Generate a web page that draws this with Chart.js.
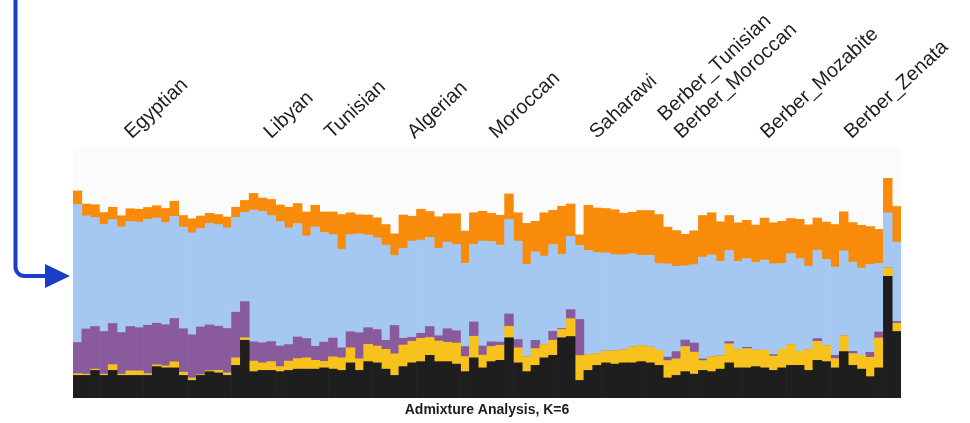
<!DOCTYPE html>
<html>
<head>
<meta charset="utf-8">
<script src="https://cdn.jsdelivr.net/npm/chart.js@4.4.1/dist/chart.umd.min.js"></script>
<style>
  html, body { margin: 0; padding: 0; background: #ffffff; }
  #wrap { width: 970px; height: 423px; }
</style>
</head>
<body>
<div id="wrap"><canvas id="admix" width="970" height="423"></canvas></div>
<script>
// Ancestry proportions (%) per individual, K=6. The sixth component is the
// pale remainder above the orange layer, painted as the plot background.
const black = [9,9,11,9,11,9,9,9,9,12.5, 12,12,9,7,9,10.5,10,9,13,23, 10.5,11,11,10.5,11,11.5,11.5,11.5,12,11.5, 11,14,11,14.5,14,11.5,9,12.5,14,14.5, 17,14.5,14.5,13.5,10.5,16,12,14.5,15,24, 14,10.5,13,16,17,24,24.5,7,11,13, 14,13.5,14,14,14.5,14,13,8,9,10.5, 9.5,11,10.5,11.5,14,12,12,12.5,12,11, 12,13,13,11,15,14.5,12,18.5,13,11.5, 8.5,12,48.5,26.5];
const yellow = [0.7,0.5,0.5,0.5,2.3,0.5,1.8,1.8,0.7,0.7, 0.8,2.4,1.3,1,0.3,0.4,1,1,3,1, 4.2,3,3.5,2,3.7,4.2,4.5,3.5,2.6,4.9, 5,6,4.6,6.9,6.7,7.9,8.6,8.6,8.6,9.3, 7.1,8.2,7.7,8.4,6,8.6,5.1,6,6,4.6, 6,6,6.7,5.3,6,3.3,7.1,9.9,6.3,4.7, 4.7,5.3,5.2,6.3,6.4,6.3,6,6.9,6.6,10, 8.8,3.9,6,5.3,7.6,7.3,7.7,6.6,7,5.7, 7.4,8.3,5.6,8.3,7.6,6.4,3.7,6.3,4.7,5.5, 7.7,11.9,3.4,3.3];
const purple = [12.4,18,17,17,16.4,16.6,17.7,17.2,19.3,16.6, 16.4,17.3,17.3,17.2,19,18.2,17.6,17.7,18.2,14.4, 7.7,8,8,8.2,6.6,8.6,7.7,5.6,7.7,7.5, 4,6.4,10.4,6.6,6.6,3.6,11.3,2.7,1.6,2, 4.4,2.1,5.4,4.9,4,5.7,3.6,1.9,1.3,4.9, 3.3,0,3.3,0,3.6,0.4,3.6,14.4,0,0, 0,0,0,0,0,0,0,1.4,2.9,2.6, 3.6,0.7,0,0,0.9,0,0.5,0,0,0.6, 0,0,0,0,1.1,0,1.3,0,0.9,0, 2,2.4,0,0.7];
const blue = [55.1,45.1,43.4,42.7,41.4,42.1,41.8,42.1,42.2,41.9, 40.7,40.7,40.5,40.6,39.2,40.5,40.5,40.1,37.8,35.6, 52.5,52.4,50.2,49.6,46.5,45.2,40.9,47.6,43.6,41.2, 39.2,38.7,39.4,36.9,36.5,37.9,27.9,35.8,38.3,37.1, 35.5,34.8,34.5,34.3,33.2,30.9,41.8,39.9,38.6,37.6, 39.2,36.8,35.2,35.2,34.5,29.5,29.2,29.5,41.5,40.2, 39.1,38.3,37.8,37.1,35.9,36.5,34.6,37.2,34,29.6, 31.2,40.5,40.5,37.7,36.3,35.2,35.3,34.9,35.9,36.2, 34.2,36.2,36.9,33.2,35.2,34.3,35.2,33.8,35.6,34.8, 35.1,27.3,21.9,31.6];
const orange = [5.3,4.7,5.1,4.7,4.9,4.4,5.1,5.1,4.7,4.9, 5.6,6,4.6,5.6,5,4,4,4.3,4,4.7, 6.6,5.3,6.4,6.6,8.2,8,9.5,8.6,8.2,9, 13.9,8.7,7.6,8,8,8.2,8.6,13.3,9.9,12.3, 10.3,12.6,11.3,12.3,12.8,12.6,11.9,11.3,11.9,10.2, 11.3,16.3,12.2,17.3,13.7,19.2,12.9,4.2,18,17.8, 17.7,17.9,16.6,16.6,17.9,17.9,19.5,14.6,14.2,12.5, 13.5,16.6,16.8,15.7,13.9,15.3,15.3,14.9,16.8,16.3, 16.8,14,15.7,16.5,12.8,14.9,16.9,15.6,15.7,17, 15,13.6,13.7,14.2];

// Population names and the position (in individuals) where each name starts.
const populations = ['Egyptian', 'Libyan', 'Tunisian', 'Algerian', 'Moroccan', 'Saharawi',
  ['Berber_Tunisian', 'Berber_Moroccan'], 'Berber_Mozabite', 'Berber_Zenata'];
const populationPos = [7.6, 23.4, 30.3, 39.7, 49.0, 60.4, 70.0, 79.8, 89.3];

const sampleIds = black.map((_, i) => 'S' + (i + 1));

const layers = [
  { label: 'K1', data: black,  color: '#1f1e1f' },
  { label: 'K2', data: yellow, color: '#f8c21c' },
  { label: 'K3', data: purple, color: '#8a5b9c' },
  { label: 'K4', data: blue,   color: '#a4c8f2' },
  { label: 'K5', data: orange, color: '#f98b0b' }
];

const plotBackground = {
  id: 'plotBackground',
  beforeDatasetsDraw(chart) {
    const { ctx, chartArea: a } = chart;
    ctx.save();
    ctx.fillStyle = '#fcfbfb';
    ctx.fillRect(a.left, a.top, a.right - a.left, a.bottom - a.top);
    ctx.restore();
  }
};

// Blue pointer arrow on the left margin.
const pointerArrow = {
  id: 'pointerArrow',
  afterDraw(chart) {
    const ctx = chart.ctx;
    ctx.save();
    ctx.strokeStyle = '#1a3ec8';
    ctx.fillStyle = '#1a3ec8';
    ctx.lineWidth = 4;
    ctx.beginPath();
    ctx.moveTo(15.5, 0);
    ctx.lineTo(15.5, 266);
    ctx.arcTo(15.5, 276, 25.5, 276, 9);
    ctx.lineTo(48, 276);
    ctx.stroke();
    ctx.beginPath();
    ctx.moveTo(45, 264);
    ctx.lineTo(70, 276);
    ctx.lineTo(45, 288);
    ctx.closePath();
    ctx.fill();
    ctx.restore();
  }
};

// Unlabelled end ticks keep the population axis spanning the full plot width.
const axisEnds = [0, black.length - 1];

new Chart(document.getElementById('admix'), {
  type: 'bar',
  data: {
    labels: sampleIds,
    datasets: layers.map(l => ({
      label: l.label,
      data: l.data,
      backgroundColor: l.color,
      borderWidth: 0,
      barPercentage: 1,
      categoryPercentage: 1
    }))
  },
  options: {
    responsive: false,
    animation: false,
    devicePixelRatio: 1,
    layout: { padding: { left: 73, right: 69, top: 0, bottom: 1.2 } },
    plugins: {
      legend: { display: false },
      tooltip: { enabled: false },
      title: {
        display: true,
        position: 'bottom',
        text: 'Admixture Analysis, K=6',
        color: '#1c1c1c',
        font: { family: "'Liberation Sans', Arial, sans-serif", size: 14, weight: 'bold' },
        padding: { top: 4, bottom: 3 }
      }
    },
    scales: {
      x: { stacked: true, display: false },
      y: { stacked: true, display: false, min: 0, max: 100 },
      pop: {
        type: 'linear',
        position: 'top',
        offset: false,
        min: -0.5,
        max: black.length - 0.5,
        grid: { display: false, drawTicks: false },
        border: { display: false },
        afterBuildTicks(scale) {
          scale.ticks = [axisEnds[0], ...populationPos, axisEnds[1]].map(v => ({ value: v }));
        },
        ticks: {
          autoSkip: false,
          minRotation: 43,
          maxRotation: 43,
          padding: 3,
          color: '#1e1e1e',
          font: { family: "'Liberation Sans', Arial, sans-serif", size: 20 },
          callback(value) {
            const k = populationPos.indexOf(value);
            return k >= 0 ? populations[k] : '';
          }
        },
        afterFit(scale) { scale.height = 147; }
      }
    }
  },
  plugins: [plotBackground, pointerArrow]
});
</script>
</body>
</html>
